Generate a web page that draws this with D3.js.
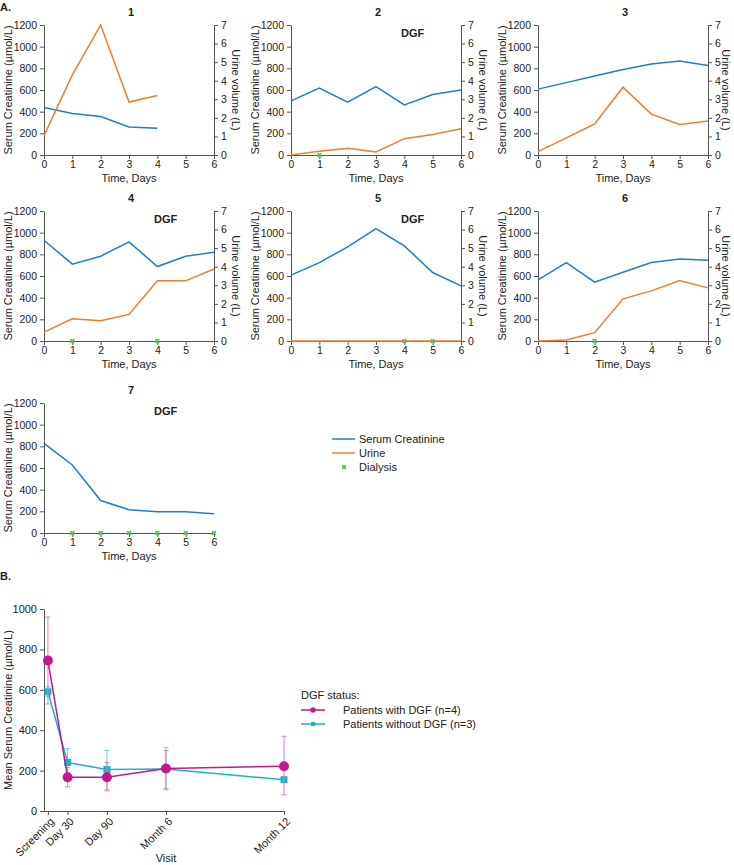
<!DOCTYPE html>
<html>
<head>
<meta charset="utf-8">
<script src="https://cdn.jsdelivr.net/npm/d3@7"></script>
<style>
  body { margin: 0; background: #fff; }
  text { font-family: "Liberation Sans", Arial, sans-serif; fill: #222; }
  .axis path, .axis line { stroke: #555; }
</style>
</head>
<body>
<svg id="chart" width="734" height="865"></svg>
<script>
// --- panel A data: one entry per patient
const days = [0, 1, 2, 3, 4, 5, 6];
const patients = ["1", "2", "3", "4", "5", "6", "7"];
const dgf = [false, true, false, true, true, false, true];
const creatinine = [
  [439, 384, 356, 258, 246],
  [500, 617, 488, 632, 463, 559, 601],
  [608, 668, 730, 789, 841, 868, 826],
  [930, 709, 783, 915, 687, 783, 819],
  [608, 724, 869, 1037, 878, 632, 509],
  [565, 724, 543, 635, 724, 758, 746],
  [827, 628, 300, 214, 196, 196, 178]
];
const urine = [
  [1.04, 4.31, 7.0, 2.85, 3.2],
  [0, 0.2, 0.36, 0.16, 0.88, 1.11, 1.41],
  [0.18, 0.92, 1.67, 3.65, 2.2, 1.64, 1.83],
  [0.48, 1.2, 1.09, 1.43, 3.24, 3.24, 3.88],
  [0, 0, 0, 0, 0, 0, 0],
  [0, 0.05, 0.45, 2.27, 2.7, 3.26, 2.86],
  null
];
const dialysis = [[], [1], [], [1, 4], [4, 5], [2], [1, 2, 3, 4, 5, 6]];
const creatTicks = [0, 200, 400, 600, 800, 1000, 1200];
const urineTicks = [0, 1, 2, 3, 4, 5, 6, 7];

// --- panel B data
const visits = ["Screening", "Day 30", "Day 90", "Month 6", "Month 12"];
const visitMonths = [0, 1, 3, 6, 12];
const withDGF = [745, 167, 167, 210, 222];
const withDGFLow = [530, 120, 100, 110, 80];
const withDGFHigh = [960, 215, 240, 300, 370];
const withoutDGF = [590, 240, 205, 208, 155];
const withoutDGFLow = [565, 170, 105, 105, 150];
const withoutDGFHigh = [615, 310, 300, 315, 160];
const meanTicks = [0, 200, 400, 600, 800, 1000];

const blue = "#1c7fcc", orange = "#f57a2c", green = "#5cc04e";
const magenta = "#c2188c", magentaErr = "#e47cc2";
const cyan = "#17b4c8", cyanErr = "#66d0dc";
const fmt = d3.format("d");

const svg = d3.select("#chart");

svg.append("text").attr("x", 0).attr("y", 11)
  .attr("font-size", 11).attr("font-weight", "bold").text("A.");
svg.append("text").attr("x", 0).attr("y", 580)
  .attr("font-size", 11).attr("font-weight", "bold").text("B.");

const colLeft = [44, 291, 538];
const rowTop = [25, 211, 403];
const pw = 170, ph = 130;

patients.forEach((p, i) => {
  const col = i % 3, row = Math.floor(i / 3);
  const g = svg.append("g")
    .attr("transform", `translate(${colLeft[col]},${rowTop[row]})`);

  const x = d3.scaleLinear().domain([0, 6]).range([0, pw]);
  const y = d3.scaleLinear().domain([0, 1200]).range([ph, 0]);
  const yr = d3.scaleLinear().domain([0, 7]).range([ph, 0]);

  g.append("g").attr("class", "axis")
    .attr("transform", `translate(0,${ph})`)
    .call(d3.axisBottom(x).tickValues(days).tickFormat(fmt).tickSize(4).tickSizeOuter(0))
    .call(a => a.selectAll("text").attr("font-size", 10.5).attr("dy", "0.6em"));

  g.append("g").attr("class", "axis")
    .call(d3.axisLeft(y).tickValues(creatTicks).tickFormat(fmt).tickSize(4).tickSizeOuter(0))
    .call(a => a.selectAll("text").attr("font-size", 10.5));

  if (urine[i]) {
    g.append("g").attr("class", "axis")
      .attr("transform", `translate(${pw},0)`)
      .call(d3.axisRight(yr).tickValues(urineTicks).tickFormat(fmt).tickSize(4).tickSizeOuter(0))
      .call(a => a.selectAll("text").attr("font-size", 10.5));

    // keep the label of the right-hand column inside the page
    const off = Math.min(pw + 18, 734 - colLeft[col] - 12);
    g.append("text")
      .attr("transform", `translate(${off},${ph / 2}) rotate(90)`)
      .attr("text-anchor", "middle").attr("font-size", 11)
      .text("Urine volume (L)");
  }

  g.append("text")
    .attr("transform", `translate(-32,${ph / 2}) rotate(-90)`)
    .attr("text-anchor", "middle").attr("font-size", 11)
    .text("Serum Creatinine (µmol/L)");

  g.append("text").attr("x", pw / 2).attr("y", ph + 27)
    .attr("text-anchor", "middle").attr("font-size", 11)
    .text("Time, Days");

  g.append("text").attr("x", pw / 2 + 2).attr("y", -9)
    .attr("text-anchor", "middle").attr("font-size", 11).attr("font-weight", "bold")
    .text(p);

  if (dgf[i]) {
    g.append("text").attr("x", 110).attr("y", 12)
      .attr("font-size", 11).attr("font-weight", "bold").text("DGF");
  }

  const lineC = d3.line().x((d, j) => x(days[j])).y(d => y(d));
  g.append("path").datum(creatinine[i])
    .attr("fill", "none").attr("stroke", blue).attr("stroke-width", 1.5)
    .attr("d", lineC);

  if (urine[i]) {
    const lineU = d3.line().x((d, j) => x(days[j])).y(d => yr(d));
    g.append("path").datum(urine[i])
      .attr("fill", "none").attr("stroke", orange).attr("stroke-width", 1.5)
      .attr("d", lineU);
  }

  g.selectAll(".dial").data(dialysis[i]).join("path")
    .attr("transform", d => `translate(${x(d)},${y(0)}) rotate(45)`)
    .attr("d", d3.symbol(d3.symbolCross, 16))
    .attr("fill", green);
});

// --- legend A
const legA = svg.append("g").attr("transform", "translate(332,439)");
[["Serum Creatinine", blue], ["Urine", orange]].forEach(([t, c], k) => {
  legA.append("line").attr("x1", 0).attr("x2", 23)
    .attr("y1", k * 14).attr("y2", k * 14)
    .attr("stroke", c).attr("stroke-width", 1.5);
  legA.append("text").attr("x", 27).attr("y", k * 14).attr("dy", "0.35em")
    .attr("font-size", 11).text(t);
});
legA.append("path")
  .attr("transform", "translate(12,28) rotate(45)")
  .attr("d", d3.symbol(d3.symbolCross, 16)).attr("fill", green);
legA.append("text").attr("x", 27).attr("y", 28).attr("dy", "0.35em")
  .attr("font-size", 11).text("Dialysis");

// --- panel B
const bx = d3.scaleLinear().domain([-0.2, 12]).range([44, 284]);
const by = d3.scaleLinear().domain([0, 1000]).range([811, 609]);

const gB = svg.append("g");
gB.append("g").attr("class", "axis")
  .attr("transform", "translate(0,811)")
  .call(d3.axisBottom(bx).tickValues(visitMonths).tickSize(4).tickSizeOuter(0)
    .tickFormat((d, j) => visits[j]))
  .call(a => a.selectAll("text")
    .attr("font-size", 11)
    .attr("text-anchor", "end")
    .attr("transform", "rotate(-45)")
    .attr("dx", "-0.3em").attr("dy", "0.5em"));

gB.append("g").attr("class", "axis")
  .attr("transform", "translate(44,0)")
  .call(d3.axisLeft(by).tickValues(meanTicks).tickFormat(fmt).tickSize(4).tickSizeOuter(0))
  .call(a => a.selectAll("text").attr("font-size", 11));

gB.append("text")
  .attr("transform", `translate(12,${(609 + 811) / 2}) rotate(-90)`)
  .attr("text-anchor", "middle").attr("font-size", 11)
  .text("Mean Serum Creatinine (µmol/L)");
gB.append("text").attr("x", 166).attr("y", 862)
  .attr("text-anchor", "middle").attr("font-size", 11).text("Visit");

function drawSeries(vals, lows, highs, col, errCol, shape) {
  visitMonths.forEach((m, j) => {
    const cx = bx(m);
    gB.append("line").attr("x1", cx).attr("x2", cx)
      .attr("y1", by(lows[j])).attr("y2", by(highs[j]))
      .attr("stroke", errCol).attr("stroke-width", 1);
    [lows[j], highs[j]].forEach(v => {
      gB.append("line").attr("x1", cx - 2.5).attr("x2", cx + 2.5)
        .attr("y1", by(v)).attr("y2", by(v))
        .attr("stroke", errCol).attr("stroke-width", 1);
    });
  });
  gB.append("path").datum(vals)
    .attr("fill", "none").attr("stroke", col).attr("stroke-width", 1.5)
    .attr("d", d3.line().x((d, j) => bx(visitMonths[j])).y(d => by(d)));
  gB.selectAll(null).data(vals).join("path")
    .attr("transform", (d, j) => `translate(${bx(visitMonths[j])},${by(d)})`)
    .attr("d", d3.symbol(shape, shape === d3.symbolSquare ? 49 : 78))
    .attr("fill", col);
}
drawSeries(withoutDGF, withoutDGFLow, withoutDGFHigh, cyan, cyanErr, d3.symbolSquare);
drawSeries(withDGF, withDGFLow, withDGFHigh, magenta, magentaErr, d3.symbolCircle);

// --- legend B
const legB = svg.append("g").attr("transform", "translate(301,695)");
legB.append("text").attr("x", 0).attr("y", 0).attr("dy", "0.35em")
  .attr("font-size", 11).text("DGF status:");
[["Patients with DGF (n=4)", magenta, d3.symbolCircle, 22],
 ["Patients without DGF (n=3)", cyan, d3.symbolSquare, 16]].forEach(([t, c, s, sz], k) => {
  const yy = 15 + k * 14;
  legB.append("line").attr("x1", 0).attr("x2", 24).attr("y1", yy).attr("y2", yy)
    .attr("stroke", c).attr("stroke-width", 1.5);
  legB.append("path").attr("transform", `translate(12,${yy})`)
    .attr("d", d3.symbol(s, sz)).attr("fill", c);
  legB.append("text").attr("x", 42).attr("y", yy).attr("dy", "0.35em")
    .attr("font-size", 11).text(t);
});
</script>
</body>
</html>
